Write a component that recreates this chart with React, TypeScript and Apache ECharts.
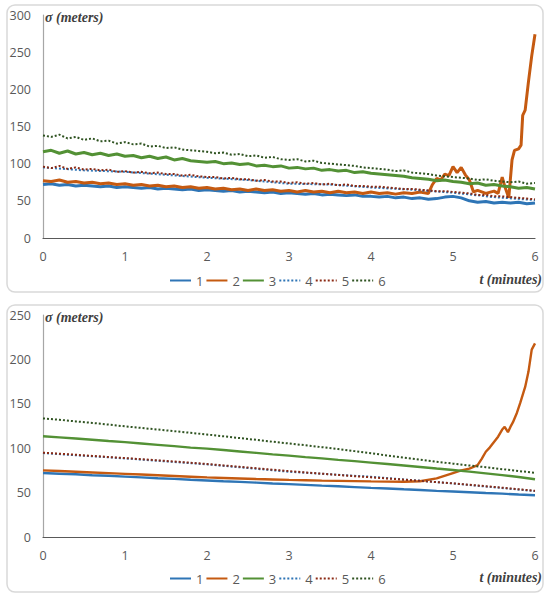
import React, { useEffect, useRef } from "react";
import * as echarts from "echarts";

// ---------- Top panel (noisy) ----------
const tTop = [0,0.1,0.2,0.3,0.4,0.5,0.6,0.7,0.8,0.9,1,1.1,1.2,1.3,1.4,1.5,1.6,1.7,1.8,1.9,2,2.1,2.2,2.3,2.4,2.5,2.6,2.7,2.8,2.9,3,3.1,3.2,3.3,3.4,3.5,3.6,3.7,3.8,3.9,4,4.1,4.2,4.3,4.4,4.5,4.6,4.7,4.8,4.9,5,5.1,5.2,5.3,5.4,5.5,5.6,5.7,5.8,5.9,6];
const s1Top = [72,73,71,72,70,71,70,69,70,68,69,68,67,68,66,67,66,65,66,64,65,64,63,64,62,63,62,61,62,60,61,60,59,60,58,59,58,57,58,56,56,55,56,54,55,53,54,52,53,55,56,54,50,48,49,47,48,47,48,46,47];
const t2Top = [0,0.1,0.2,0.3,0.4,0.5,0.6,0.7,0.8,0.9,1,1.1,1.2,1.3,1.4,1.5,1.6,1.7,1.8,1.9,2,2.1,2.2,2.3,2.4,2.5,2.6,2.7,2.8,2.9,3,3.1,3.2,3.3,3.4,3.5,3.6,3.7,3.8,3.9,4,4.1,4.2,4.3,4.4,4.5,4.6,4.7,4.75,4.8,4.85,4.9,4.95,5,5.05,5.1,5.15,5.2,5.25,5.3,5.4,5.5,5.55,5.6,5.63,5.68,5.72,5.75,5.8,5.83,5.85,5.88,5.92,5.96,6];
const s2Top = [77,76,78,75,76,74,75,73,74,72,73,71,72,70,71,69,70,68,69,67,68,66,67,65,66,64,66,64,65,63,64,62,64,62,63,61,63,61,62,60,62,60,61,59,61,60,62,60,72,80,78,86,84,96,88,95,85,78,62,64,60,63,60,82,70,54,105,118,120,125,165,172,210,245,274];
const s3Top = [116,118,114,117,113,115,112,114,111,113,110,111,108,110,107,109,105,107,104,103,102,103,100,101,99,100,97,98,96,97,94,95,93,94,91,92,90,91,88,89,87,86,85,84,83,81,80,79,77,78,76,75,73,74,71,72,70,69,67,68,66];
const t4Top = [0,0.5,1,1.5,2,2.5,3,3.5,4,4.5,5,5.5,6];
const s4Top = [95,91,89,85,81,78,73,72,68,65,61,55,51];
const s5Top = [96,94,97,93,95,92,93,91,92,89,90,88,89,87,88,86,86,84,85,83,82,82,80,81,79,79,77,78,76,76,74,75,73,74,72,73,71,72,70,70,69,69,68,67,66,66,65,64,63,63,62,61,60,58,58,56,56,55,54,53,52];
const s6Top = [138,136,139,134,136,132,134,130,131,127,129,126,127,123,124,121,122,119,118,117,116,114,115,112,113,110,111,108,109,106,105,106,103,104,101,100,99,98,97,95,94,93,92,90,91,88,87,86,84,83,82,81,80,78,79,77,76,75,76,73,74];

// ---------- Bottom panel (smooth) ----------
const tBot = [0,0.2,0.4,0.6,0.8,1,1.2,1.4,1.6,1.8,2,2.2,2.4,2.6,2.8,3,3.2,3.4,3.6,3.8,4,4.2,4.4,4.6,4.8,5,5.2,5.4,5.6,5.8,6];
const s1Bot = [72,71.3,70.6,69.5,68.9,68,67.1,66.2,65.4,64.5,63.7,62.8,62.1,61.2,60.3,59.6,58.7,57.8,57.1,56.2,55.3,54.6,53.7,52.9,52,51.2,50.4,49.5,48.8,47.8,47];
const t2Bot = [0,0.2,0.4,0.6,0.8,1,1.2,1.4,1.6,1.8,2,2.2,2.4,2.6,2.8,3,3.2,3.4,3.6,3.8,4,4.2,4.4,4.6,4.8,5,5.1,5.2,5.3,5.35,5.4,5.45,5.5,5.55,5.6,5.63,5.67,5.7,5.73,5.78,5.82,5.85,5.88,5.92,5.96,6];
const s2Bot = [75,74.3,73.5,72.7,71.9,71.1,70.3,69.5,68.7,67.9,67.1,66.5,65.9,65.3,64.8,64.3,63.9,63.5,63.2,62.9,62.6,62.4,62.3,62.8,66,72,75,77,81,88,96,101,107,113,121,124,118,124,129,140,151,160,169,186,211,218];
const s3Bot = [113.5,112.2,110.9,109.5,108.1,106.8,105.3,103.8,102.3,100.6,99.5,97.9,96.3,94.7,93.1,91.6,90,88.5,86.9,85.4,83.8,82.2,80.5,78.8,77.1,75.5,73.6,71.7,69.7,67.5,65];
const t4Bot = [0,1,2,3,4,5,6];
const s4Bot = [94.5,88.5,81.8,73.5,67.8,60.3,51.7];
const s5Bot = [95,93.8,92.6,91.3,90.1,88.9,87.6,86.3,85,83.6,82.2,80.6,79,77.4,75.8,74.2,72.7,71.3,69.9,68.5,67.2,65.9,64.6,63.2,61.8,60.4,58.8,57.2,55.5,53.8,52];
const s6Bot = [133.5,132,130.2,128.5,126.6,124.6,122.8,121,119.2,117.3,115.4,113.4,111.4,109.4,107.3,105.3,103.3,101.2,99,96.7,94.3,91.8,89.3,87,84.8,82.6,80.5,78.6,76.4,74.3,72.3];

const names = ["1", "2", "3", "4", "5", "6"];
const colors = ["#2E75B6", "#C55A11", "#539135", "#2E75B6", "#8B2A14", "#2F5321"];
const dotted = [false, false, false, true, true, true];

const pairs = (t: number[], v: number[]) => t.map((x, i) => [x, v[i]]);

export default function App() {
  const ref = useRef<HTMLDivElement>(null);
  useEffect(() => {
    const chart = echarts.init(ref.current!, null, { renderer: "svg" });
    const labelFont = "Open Sans";
    const topData = [pairs(tTop, s1Top), pairs(t2Top, s2Top), pairs(tTop, s3Top), pairs(t4Top, s4Top), pairs(tTop, s5Top), pairs(tTop, s6Top)];
    const botData = [pairs(tBot, s1Bot), pairs(t2Bot, s2Bot), pairs(tBot, s3Bot), pairs(t4Bot, s4Bot), pairs(tBot, s5Bot), pairs(tBot, s6Bot)];
    const mk = (data: number[][][], idx: number, solidW: number) =>
      data.map((d, i) => ({
        name: names[i],
        type: "line",
        xAxisIndex: idx,
        yAxisIndex: idx,
        data: d,
        symbol: "none",
        color: colors[i],
        lineStyle: {
          color: colors[i],
          width: dotted[i] ? 2 : solidW,
          type: dotted[i] ? [2, 2] : "solid",
        },
      }));
    const xAx = (gi: number) => ({
      type: "value",
      gridIndex: gi,
      min: 0,
      max: 6,
      interval: 1,
      axisLine: { show: true, lineStyle: { color: "#595959", width: 1.2 } },
      axisTick: { show: false },
      splitLine: { show: false },
      axisLabel: { color: "#595959", fontSize: 12.5, fontFamily: labelFont, margin: 12 },
    });
    const yAx = (gi: number, max: number) => ({
      type: "value",
      gridIndex: gi,
      min: 0,
      max,
      interval: 50,
      axisLine: { show: true, lineStyle: { color: "#A6A6A6", width: 1.2 } },
      axisTick: { show: false },
      splitLine: { show: false },
      axisLabel: { color: "#595959", fontSize: 12.5, fontFamily: labelFont, margin: 12 },
    });
    const leg = (top: number) => ({
      data: names,
      left: 164,
      top,
      itemWidth: 21,
      itemHeight: 12,
      itemGap: 2,
      itemStyle: { opacity: 0 },
      textStyle: { color: "#595959", fontSize: 13, fontFamily: labelFont },
    });
    const titleText = (x: number, y: number, text: string, align: string) => ({
      type: "text",
      x,
      y,
      style: {
        text,
        fill: "#404040",
        font: "italic bold 14px 'Liberation Serif'",
        textAlign: align,
        textVerticalAlign: "middle",
      },
    });
    chart.setOption({
      animation: false,
      backgroundColor: "#ffffff",
      grid: [
        { left: 43, right: 15, top: 15, height: 223 },
        { left: 43, right: 15, top: 315, height: 222 },
      ],
      xAxis: [xAx(0), xAx(1)],
      yAxis: [yAx(0, 300), yAx(1, 250)],
      legend: [leg(269), leg(567)],
      series: [...mk(topData, 0, 3), ...mk(botData, 1, 2.4)],
      graphic: [
        { type: "rect", shape: { x: 7, y: 5, width: 536, height: 287, r: 8 }, style: { fill: "none", stroke: "#D9D9D9", lineWidth: 1.5 }, z: -1 },
        { type: "rect", shape: { x: 7, y: 305, width: 536, height: 287, r: 8 }, style: { fill: "none", stroke: "#D9D9D9", lineWidth: 1.5 }, z: -1 },
        titleText(45, 17, "σ (meters)", "left"),
        titleText(542, 279, "t (minutes)", "right"),
        titleText(45, 317, "σ (meters)", "left"),
        titleText(542, 577, "t (minutes)", "right"),
      ],
    });
    return () => chart.dispose();
  }, []);
  return <div ref={ref} style={{ position: "absolute", left: 0, top: 0, width: 550, height: 598 }} />;
}
